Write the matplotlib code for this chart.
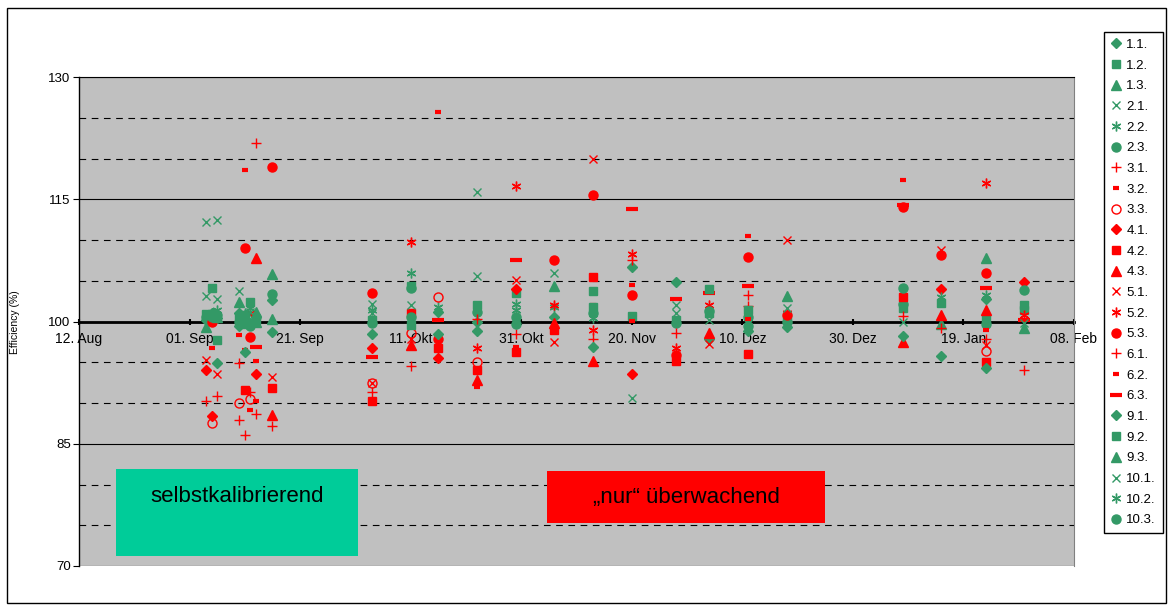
import numpy as np
import pandas as pd
import matplotlib
matplotlib.use("Agg")
import matplotlib.pyplot as plt
from matplotlib.patches import Rectangle

plt.rcParams['font.family'] = ['Liberation Sans', 'DejaVu Sans']

na = np.nan

# measurement days
dates = pd.to_datetime([
    "2005-09-04", "2005-09-05", "2005-09-06", "2005-09-10", "2005-09-11", "2005-09-12",
    "2005-09-13", "2005-09-16", "2005-10-04", "2005-10-11", "2005-10-16", "2005-10-23",
    "2005-10-30", "2005-11-06", "2005-11-13", "2005-11-20", "2005-11-28", "2005-12-04",
    "2005-12-11", "2005-12-18", "2006-01-08", "2006-01-15", "2006-01-23", "2006-01-30",
])

tick_dates = pd.date_range("2005-08-12", periods=10, freq="20D")
tick_labels = ["12. Aug", "01. Sep", "21. Sep", "11. Okt", "31. Okt",
               "20. Nov", "10. Dez", "30. Dez", "19. Jan", "08. Feb"]

# efficiency (%) per device, one value per measurement day
v_1_1 = [100.2, na, 100.4, 101.0, na, 99.8, na, 98.7, na, na, 101.2, 100.0,
         na, 100.6, na, 106.7, na, 97.9, na, 99.3, na, 95.8, 102.7, na]
v_1_2 = [100.9, 104.1, na, 100.5, na, 102.4, na, na, 100.2, 104.3, na, na,
         103.5, na, 103.7, 100.7, 100.2, 101.0, na, 100.3, 101.6, na, 100.3, 101.4]
v_1_3 = [99.3, na, na, 102.4, na, na, 101.2, 100.3, na, na, na, na,
         na, 104.3, na, na, na, na, na, na, na, 99.7, na, 99.2]
v_2_1 = [112.2, na, 102.8, 103.8, na, na, na, na, 102.2, na, na, 115.9,
         na, na, na, 90.6, 102.0, na, na, na, na, na, na, na]
v_2_2 = [na, na, na, na, 101.0, na, na, na, 101.4, na, 101.8, na,
         102.2, 101.8, 100.4, na, na, na, 100.0, na, 103.0, na, 103.3, na]
v_2_3 = [100.6, na, 100.8, 100.0, na, 99.5, 100.6, na, 99.8, 104.1, na, 101.2,
         100.6, na, 101.0, na, 99.8, na, 100.6, 100.0, 102.2, na, 99.7, na]
v_3_1 = [90.2, na, na, 87.9, na, na, 121.9, 87.2, 91.3, 94.5, na, 100.3,
         na, na, na, na, na, na, 101.9, na, 100.7, na, 97.9, na]
v_3_2 = [na, 96.7, na, na, 118.6, 89.2, 90.3, na, na, na, na, 92.0,
         96.9, na, na, 100.1, na, na, 100.3, na, 117.4, na, 99.0, na]
v_3_3 = [na, 87.6, na, 90.0, na, 90.5, na, na, 92.4, 98.6, 103.0, 95.0,
         na, na, na, na, na, na, na, na, na, na, 96.4, na]
v_4_1 = [94.1, 88.4, na, na, na, na, 93.6, na, 96.8, na, 95.5, na,
         104.0, na, na, 93.6, na, na, na, na, na, 104.0, na, 104.9]
v_4_2 = [na, na, na, na, 91.6, na, na, 91.9, 90.2, 101.0, 96.8, 94.1,
         96.2, 99.0, 105.4, na, 95.1, na, 96.0, na, 103.0, na, 95.0, na]
v_4_3 = [na, na, na, na, na, na, 107.8, 88.5, na, 97.1, na, 92.8,
         na, 99.8, 95.2, na, na, 98.6, na, na, 97.5, 100.8, 101.4, na]
v_5_1 = [95.3, na, 93.6, na, na, 100.9, na, 93.2, 92.4, 97.9, na, na,
         105.1, 97.5, 119.9, na, na, 97.2, na, 110.0, na, 108.8, 97.1, na]
v_5_2 = [na, na, na, na, na, na, na, na, na, 109.8, na, 96.7,
         116.6, 102.0, 99.0, 108.3, 96.8, 102.0, na, 101.1, na, na, 117.0, 100.8]
v_5_3 = [na, 100.0, na, na, 109.0, 98.1, na, 119.0, 103.5, na, 97.9, na,
         na, 107.5, 115.5, 103.3, 95.9, na, 107.9, 100.8, 114.0, 108.1, 105.9, na]
v_6_1 = [na, na, 90.9, 94.9, 86.1, 91.3, 88.6, na, na, na, na, na,
         98.5, na, 97.9, 107.5, 98.6, na, 103.3, na, na, 99.2, na, 94.1]
v_6_2 = [na, na, na, 98.4, 96.5, na, 95.2, na, na, na, 125.7, na,
         na, na, 102.0, 104.5, na, na, 110.5, 102.7, na, na, na, na]
v_6_3 = [na, na, na, na, na, na, 96.9, na, 95.6, na, 100.2, na,
         107.5, na, na, 113.8, 102.7, 103.5, 104.3, na, 114.3, na, 104.1, 100.2]
v_9_1 = [na, 101.0, 94.9, 99.5, 96.3, na, na, 102.6, 98.5, na, 98.5, 98.8,
         na, na, 96.9, na, 104.8, na, 98.8, na, 98.2, na, 94.3, na]
v_9_2 = [na, 100.9, 97.7, na, 100.3, na, 100.2, na, na, 99.6, na, 102.0,
         na, na, 101.8, na, na, 104.0, 101.4, na, na, 102.3, na, 102.0]
v_9_3 = [na, na, 100.5, na, 99.8, na, 100.0, 105.8, na, na, na, na,
         na, na, na, na, na, na, na, 103.1, na, na, 107.8, na]
v_10_1 = [103.1, na, 112.5, na, na, 101.2, na, na, 101.0, 102.0, na, 105.6,
          na, 105.9, na, na, 101.0, 100.2, na, 101.6, 100.0, na, na, 99.8]
v_10_2 = [na, na, 101.4, na, na, 101.6, na, na, na, 106.0, na, na,
          101.4, na, na, na, na, na, na, na, na, 103.0, na, na]
v_10_3 = [na, 100.5, na, na, 100.8, na, na, 103.4, na, 100.6, na, na,
          99.7, na, na, na, na, 101.3, 99.4, na, 104.1, na, na, 103.9]

GREEN = "#339966"
RED = "#FF0000"
STAR = (6, 2, 0)

# label, values, colour, marker, size, edge width, filled
series = [
    ("1.1.", v_1_1, GREEN, "D", 5, 1, True),
    ("1.2.", v_1_2, GREEN, "s", 5.5, 1, True),
    ("1.3.", v_1_3, GREEN, "^", 7, 1, True),
    ("2.1.", v_2_1, GREEN, "x", 6, 1, True),
    ("2.2.", v_2_2, GREEN, STAR, 7, 1, True),
    ("2.3.", v_2_3, GREEN, "o", 6.5, 1, True),
    ("3.1.", v_3_1, RED, "+", 7, 1, True),
    ("3.2.", v_3_2, RED, "_", 5, 3, True),
    ("3.3.", v_3_3, RED, "o", 6.5, 1, False),
    ("4.1.", v_4_1, RED, "D", 5, 1, True),
    ("4.2.", v_4_2, RED, "s", 5.5, 1, True),
    ("4.3.", v_4_3, RED, "^", 7, 1, True),
    ("5.1.", v_5_1, RED, "x", 6, 1, True),
    ("5.2.", v_5_2, RED, STAR, 7, 1, True),
    ("5.3.", v_5_3, RED, "o", 6.5, 1, True),
    ("6.1.", v_6_1, RED, "+", 7, 1, True),
    ("6.2.", v_6_2, RED, "_", 5, 3, True),
    ("6.3.", v_6_3, RED, "_", 9, 3, True),
    ("9.1.", v_9_1, GREEN, "D", 5, 1, True),
    ("9.2.", v_9_2, GREEN, "s", 5.5, 1, True),
    ("9.3.", v_9_3, GREEN, "^", 7, 1, True),
    ("10.1.", v_10_1, GREEN, "x", 6, 1, True),
    ("10.2.", v_10_2, GREEN, STAR, 7, 1, True),
    ("10.3.", v_10_3, GREEN, "o", 6.5, 1, True),
]

W, H = 1172, 605
fig = plt.figure(figsize=(W / 100, H / 100), dpi=100)
ax = fig.add_axes([79 / W, 1 - 566 / H, (1074 - 79) / W, (566 - 77) / H])
ax.set_facecolor("#C0C0C0")

# horizontal grid: solid on major steps, dashed in between
for v in range(70, 131, 5):
    if (v - 70) % 15 == 0:
        ax.axhline(v, color="black", lw=0.8, zorder=1)
    else:
        ax.axhline(v, color="black", lw=0.8, dashes=(6, 5), zorder=1)

handles = []
for label, vals, col, mk, ms, mew, filled in series:
    h, = ax.plot(dates, vals, linestyle="none", marker=mk, markersize=ms,
                 markeredgewidth=mew, color=col,
                 markerfacecolor=col if filled else "none",
                 label=label, zorder=3)
    handles.append(h)

ax.set_ylim(70, 130)
ax.set_xlim(tick_dates[0], tick_dates[-1])
ax.set_yticks([70, 85, 100, 115, 130])
ax.set_xticks(tick_dates)
ax.set_xticklabels(tick_labels)

ax.spines["bottom"].set_position(("data", 100))
ax.spines["bottom"].set_linewidth(2)
ax.spines["bottom"].set_zorder(2)
ax.spines["left"].set_linewidth(1)
ax.spines["top"].set_linewidth(0.8)
ax.spines["right"].set_color("#808080")
ax.spines["right"].set_linewidth(0.8)

ax.tick_params(axis="y", direction="out", length=4, width=0.8, labelsize=9.5, pad=2)
ax.tick_params(axis="x", direction="inout", length=5, width=1.5, labelsize=10, pad=5)

fig.text(15 / W, 1 - 322 / H, "Efficiency (%)", rotation=90, ha="center",
         va="center", fontsize=7.5)

leg = fig.legend(handles, [s[0] for s in series], loc="upper left",
                 bbox_to_anchor=(1104 / W, 1 - 32 / H), frameon=True,
                 fancybox=False, edgecolor="black", framealpha=1,
                 fontsize=9.5, labelspacing=0.64, handlelength=0.8,
                 handletextpad=0.4, borderpad=0.5, borderaxespad=0)
leg.get_frame().set_linewidth(1)

# marked areas
fig.add_artist(Rectangle((116 / W, 1 - 556 / H), (358 - 116) / W, (556 - 469) / H,
                         transform=fig.transFigure, facecolor="#00CC99",
                         edgecolor="none", zorder=5))
fig.text(237 / W, 1 - 497 / H, "selbstkalibrierend", ha="center", va="center",
         fontsize=16, zorder=6)
fig.add_artist(Rectangle((547 / W, 1 - 523 / H), (825 - 547) / W, (523 - 471) / H,
                         transform=fig.transFigure, facecolor=RED,
                         edgecolor="none", zorder=5))
fig.text(686 / W, 1 - 497 / H, "\u201enur\u201c \u00fcberwachend", ha="center",
         va="center", fontsize=16, zorder=6)

# chart frame
fig.add_artist(Rectangle((7 / W, 1 - 603 / H), (1166 - 7) / W, (603 - 8) / H,
                         transform=fig.transFigure, fill=False,
                         edgecolor="black", lw=1, zorder=0))

fig.savefig("out.png", dpi=100)
